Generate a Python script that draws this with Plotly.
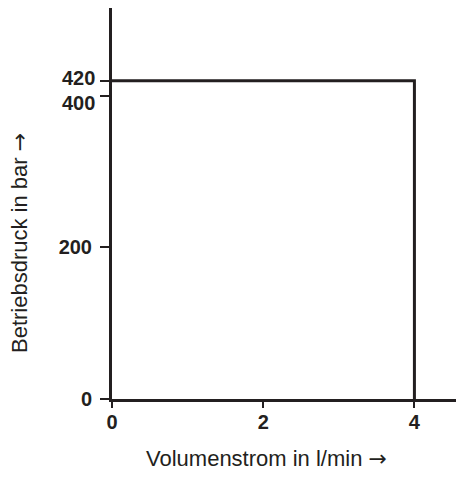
import plotly.graph_objects as go

# Data
flow = [0, 4, 4]          # Volumenstrom in l/min
pressure = [420, 420, 0]  # Betriebsdruck in bar
x_ticks = [0, 2, 4]
y_ticks = [0, 200, 400, 420]
y_tick_offsets = {400: -7, 420: 3}   # close labels nudged apart
x_title = "Volumenstrom in l/min"
y_title = "Betriebsdruck in bar"

LINE = "#231f20"
TICKFONT = dict(family="Liberation Sans, Arial, sans-serif", size=20, color=LINE)
TITLEFONT = dict(family="Liberation Sans, Arial, sans-serif", size=22, color=LINE)
ARROW = '<span style="font-family:DejaVu Sans">→</span>'

fig = go.Figure()
fig.add_trace(go.Scatter(x=flow, y=pressure, mode="lines",
                         line=dict(color=LINE, width=3), hoverinfo="skip",
                         cliponaxis=False))

annotations = [
    dict(text=f"{x_title} {ARROW}", xref="paper", yref="paper", x=0.449, y=0,
         xanchor="center", yanchor="middle", yshift=-59, showarrow=False, font=TITLEFONT),
    dict(text=f"{y_title} {ARROW}", xref="paper", yref="paper", x=0, y=0.399,
         xanchor="center", yanchor="middle", xshift=-92, textangle=-90,
         showarrow=False, font=TITLEFONT),
]
for v, off in y_tick_offsets.items():
    annotations.append(dict(text=f"<b>{v}</b>", xref="paper", yref="y", x=0, y=v,
                            xanchor="right", yanchor="middle", xshift=-16, yshift=off,
                            showarrow=False, font=TICKFONT, borderpad=0))

fig.update_layout(
    width=448, height=462,
    margin=dict(l=104, r=0, t=0, b=71),
    paper_bgcolor="white", plot_bgcolor="white",
    showlegend=False,
    xaxis=dict(range=[0, 4.55], tickvals=x_ticks, ticktext=[f"<b>{v}</b>" for v in x_ticks],
               showgrid=False, zeroline=False, showline=True, linecolor=LINE, linewidth=3,
               ticks="outside", ticklen=6, tickwidth=2, tickcolor=LINE, tickfont=TICKFONT,
               ticklabelstandoff=-3),
    yaxis=dict(range=[0, 516], tickvals=y_ticks,
               ticktext=["" if v in y_tick_offsets else f"<b>{v}</b>" for v in y_ticks],
               showgrid=False, zeroline=False, showline=True, linecolor=LINE, linewidth=3,
               ticks="outside", ticklen=9, tickwidth=2, tickcolor=LINE, tickfont=TICKFONT,
               ticklabelstandoff=4),
    annotations=annotations,
)

fig.write_html("out.html")
